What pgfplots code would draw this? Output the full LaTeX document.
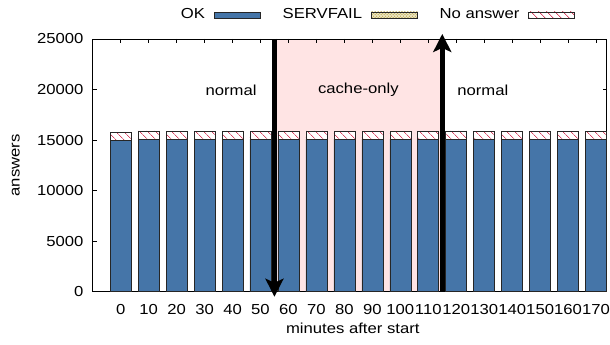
\documentclass[border=0pt]{standalone}
\usepackage{fontspec}
\setmainfont{Liberation Sans}[FakeStretch=1.15]
\usepackage{pgfplots}
\pgfplotsset{compat=1.18}
\usetikzlibrary{patterns,patterns.meta,arrows.meta}
\definecolor{okblue}{RGB}{69,117,168}
\definecolor{pinkbg}{RGB}{255,228,228}
\definecolor{sfcol}{RGB}{200,180,80}
\definecolor{nacol}{RGB}{215,70,100}
\begin{document}
\fontsize{14.5bp}{17bp}\selectfont
\begin{tikzpicture}
\useasboundingbox (0,0) rectangle (610bp,345bp);
\begin{axis}[
  at={(92.7bp,53.3bp)}, anchor=south west,
  scale only axis, width=514bp, height=252.7bp,
  xmin=-1, xmax=17.38, ymin=0, ymax=25000,
  hide axis,
]
\addplot[fill=pinkbg, draw=none] coordinates {(5.5,0) (5.5,25000) (11.5,25000) (11.5,0)} -- cycle;
\end{axis}
\begin{axis}[
  at={(92.7bp,53.3bp)}, anchor=south west,
  scale only axis, width=514bp, height=252.7bp,
  xmin=-1, xmax=17.38, ymin=0, ymax=25000,
  clip=false,
  ybar stacked, bar width=21bp,
  reverse stacked plots=false,
  xtick={0,...,17}, xticklabels={0,10,20,30,40,50,60,70,80,90,100,110,120,130,140,150,160,170},
  ytick={0,5000,10000,15000,20000,25000},
  scaled y ticks=false,
  /pgf/number format/assume math mode=true,
  /pgf/number format/1000 sep={},
  tick align=inside, major tick length=4bp,
  axis line style={line width=0.8bp},
  tick style={line width=0.6bp, black},
  xlabel={minutes after start}, ylabel={answers},
  xlabel style={at={(rel axis cs:0.506,0)}, anchor=center, yshift=-37bp},
  ylabel style={at={(rel axis cs:0,0.5)}, anchor=center, yshift=77bp},
  xticklabel style={inner sep=0pt, yshift=-12bp},
  yticklabel style={inner sep=0pt, xshift=-9bp},
  legend plot pos=right,
  legend columns=3,
  legend style={at={(rel axis cs:0.554,1.095)}, anchor=center, draw=none, fill=none,
    /tikz/every odd column/.style={column sep=8bp},
    /tikz/every even column/.style={column sep=21bp},
    nodes={inner sep=1bp, right=0bp}},
]
\addplot[fill=okblue, draw=black!85, line width=0.6bp,
  legend image code/.code={\draw[fill=okblue, draw=black!85, line width=0.6bp] (0bp,-3bp) rectangle (46bp,3bp);}]
  coordinates {(0,14940) (1,15110) (2,15100) (3,15100) (4,15110) (5,15100) (6,15100) (7,15110) (8,15100) (9,15100) (10,15100) (11,15100) (12,15110) (13,15100) (14,15100) (15,15100) (16,15100) (17,15100)};
\addlegendentry{OK}
\addplot[fill=white, draw=black!85, line width=0.6bp, postaction={pattern=crosshatch dots, pattern color=sfcol},
  legend image code/.code={\draw[fill=sfcol!35, draw=black!85, line width=0.6bp, postaction={pattern=crosshatch dots, pattern color=sfcol!90!black}] (0bp,-3bp) rectangle (46bp,3bp);}]
  coordinates {(0,0) (1,0) (2,0) (3,0) (4,0) (5,0) (6,0) (7,0) (8,0) (9,0) (10,0) (11,0) (12,0) (13,0) (14,0) (15,0) (16,0) (17,0)};
\addlegendentry{SERVFAIL}
\addplot[fill=white, draw=black!85, line width=0.6bp, postaction={pattern={Lines[angle=-45,distance=6bp,line width=0.7bp]}, pattern color=nacol},
  legend image code/.code={\draw[fill=white, draw=black!85, line width=0.6bp, postaction={pattern={Lines[angle=-45,distance=6bp,line width=0.7bp]}, pattern color=nacol}] (0bp,-3bp) rectangle (46bp,3bp);}]
  coordinates {(0,830) (1,800) (2,790) (3,790) (4,800) (5,790) (6,790) (7,790) (8,790) (9,790) (10,790) (11,790) (12,790) (13,790) (14,790) (15,790) (16,790) (17,790)};
\addlegendentry{No answer}
\draw[line width=5bp, -{Stealth[length=18bp,width=18bp,inset=4bp]}] (axis cs:5.5,25000) -- (axis cs:5.5,-500);
\draw[line width=5bp, -{Stealth[length=18bp,width=18bp,inset=4bp]}] (axis cs:11.5,0) -- (axis cs:11.5,25500);
\node at (axis cs:3.95,19950) {normal};
\node at (axis cs:8.5,19950) {cache-only};
\node at (axis cs:12.95,19950) {normal};
\end{axis}
\end{tikzpicture}
\end{document}
